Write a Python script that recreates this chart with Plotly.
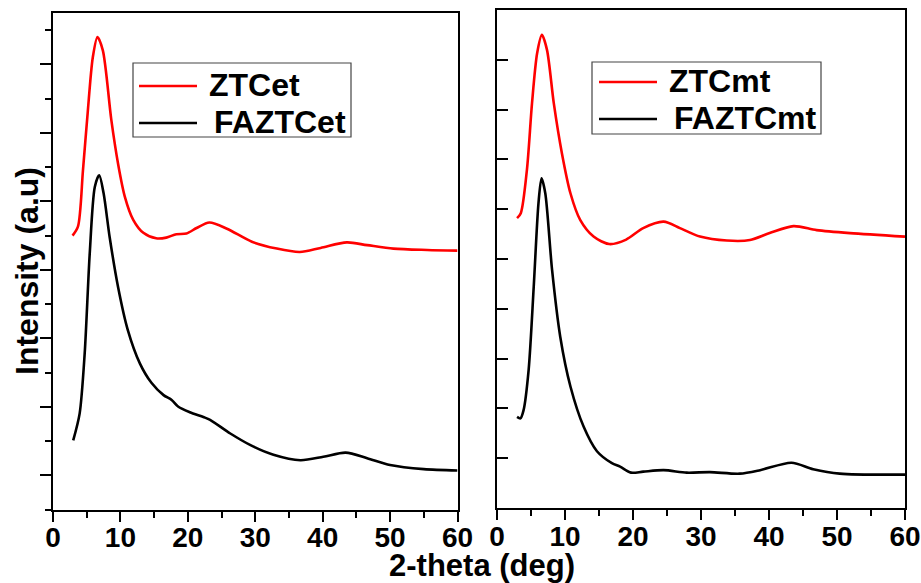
import plotly.graph_objects as go

# ---------------- data ----------------
ztcet_x = [2.9, 3.7, 4.45, 5.15, 5.9, 6.6, 7.4, 8.65, 9.65, 10.65, 11.9, 13.4, 15.3, 16.8,
           18.3, 19.8, 21.3, 23.2, 25.8, 29.5, 33.2, 36.6, 39.7, 43.6, 46.6, 50.5, 55.5, 60]
ztcet_y = [4.00, 4.13, 4.96, 5.80, 6.60, 6.90, 6.70, 5.69, 5.05, 4.57, 4.23, 4.04, 3.96, 3.97,
           4.02, 4.03, 4.11, 4.19, 4.10, 3.91, 3.81, 3.76, 3.82, 3.90, 3.86, 3.81, 3.79, 3.78]

faztcet_x = [3.0, 3.95, 4.7, 5.45, 6.2, 6.85, 7.5, 8.4, 9.65, 11.1, 12.9, 14.6, 16.4, 17.6, 18.6,
             20.3, 22.3, 23.3, 26.3, 29.3, 32.7, 36.7, 40.1, 43.4, 46.6, 50.0, 55.0, 60]
faztcet_y = [1.01, 1.40, 2.28, 3.74, 4.71, 4.88, 4.62, 3.98, 3.25, 2.62, 2.13, 1.85, 1.67, 1.60, 1.50,
             1.42, 1.35, 1.31, 1.11, 0.94, 0.80, 0.72, 0.77, 0.83, 0.75, 0.65, 0.59, 0.57]

ztcmt_x = [2.95, 3.5, 4.4, 5.15, 5.9, 6.6, 7.35, 8.35, 9.55, 10.8, 12.25, 14.2, 16.5, 19.0, 21.5,
           24.5, 26.9, 29.85, 33.8, 37.2, 40.1, 43.6, 47.0, 51.9, 60]
ztcmt_y = [5.82, 5.92, 6.79, 8.13, 9.13, 9.50, 9.20, 8.13, 7.12, 6.32, 5.78, 5.45, 5.30, 5.39, 5.62,
           5.75, 5.62, 5.45, 5.37, 5.38, 5.52, 5.66, 5.58, 5.52, 5.45]

faztcmt_x = [2.95, 3.45, 3.9, 4.65, 5.4, 6.1, 6.55, 7.1, 8.1, 9.3, 10.8, 12.75, 14.7, 16.9, 18.1,
             19.7, 21.5, 24.5, 27.9, 31.3, 35.7, 38.7, 43.3, 46.5, 50.4, 60]
faztcmt_y = [1.83, 1.80, 1.96, 2.77, 4.44, 6.12, 6.62, 6.32, 4.78, 3.44, 2.44, 1.63, 1.14, 0.90, 0.83,
             0.71, 0.73, 0.76, 0.71, 0.72, 0.69, 0.76, 0.91, 0.78, 0.69, 0.67]

x_ticks = [0, 10, 20, 30, 40, 50, 60]
labels_left = ["ZTCet", "FAZTCet"]
labels_right = ["ZTCmt", "FAZTCmt"]
x_title = "2-theta (deg)"
y_title = "Intensity (a.u)"

RED = "#ff0000"
BLACK = "#000000"
FONT = "Liberation Sans, Arial, sans-serif"
W, H = 921, 583

fig = go.Figure()
line_w = 2.6
sm = 0.8
fig.add_trace(go.Scatter(x=ztcet_x, y=ztcet_y, mode="lines", name=labels_left[0],
                         line=dict(color=RED, width=line_w, shape="spline", smoothing=sm),
                         xaxis="x", yaxis="y"))
fig.add_trace(go.Scatter(x=faztcet_x, y=faztcet_y, mode="lines", name=labels_left[1],
                         line=dict(color=BLACK, width=line_w, shape="spline", smoothing=sm),
                         xaxis="x", yaxis="y"))
fig.add_trace(go.Scatter(x=ztcmt_x, y=ztcmt_y, mode="lines", name=labels_right[0],
                         line=dict(color=RED, width=line_w, shape="spline", smoothing=sm),
                         xaxis="x2", yaxis="y2"))
fig.add_trace(go.Scatter(x=faztcmt_x, y=faztcmt_y, mode="lines", name=labels_right[1],
                         line=dict(color=BLACK, width=line_w, shape="spline", smoothing=sm),
                         xaxis="x2", yaxis="y2"))

def px_x(p):
    return p / W

def px_y(p):
    return 1 - p / H

tickfont = dict(family=FONT, size=28, color="black", weight="bold")
xcommon = dict(range=[0, 60], tickmode="array", tickvals=x_ticks, ticktext=[str(v) for v in x_ticks],
               ticks="outside", ticklen=10, tickwidth=2, tickcolor="black",
               ticklabelstandoff=-8, ticklabeloverflow="allow",
               minor=dict(ticks="outside", ticklen=6, tickwidth=2, dtick=5, tick0=0, tickcolor="black"),
               showline=True, linewidth=2, linecolor="black", mirror=True, automargin=False,
               showgrid=False, zeroline=False, tickfont=tickfont, fixedrange=True)

fig.update_layout(
    xaxis=dict(domain=[px_x(53), px_x(457.5)], anchor="y", **xcommon),
    yaxis=dict(domain=[px_y(509.5), px_y(13)], anchor="x", range=[0, 7.25],
               tickmode="linear", tick0=0.5, dtick=1, ticks="outside", ticklen=11, tickwidth=1.5,
               tickcolor="black", showticklabels=False, automargin=False,
               minor=dict(ticks="outside", ticklen=6, tickwidth=1.5, dtick=0.5, tick0=0, tickcolor="black"),
               showline=True, linewidth=2, linecolor="black", mirror=True,
               showgrid=False, zeroline=False, fixedrange=True),
    xaxis2=dict(domain=[px_x(497), px_x(905)], anchor="y2", **xcommon),
    yaxis2=dict(domain=[px_y(508), px_y(10)], anchor="x2", range=[0, 10],
                tickmode="linear", tick0=0, dtick=1, ticks="inside", ticklen=11, tickwidth=1.5,
                tickcolor="black", showticklabels=False, automargin=False,
                showline=True, linewidth=2, linecolor="black", mirror=True,
                showgrid=False, zeroline=False, fixedrange=True),
    width=W, height=H,
    margin=dict(l=0, r=0, t=0, b=0, autoexpand=False),
    paper_bgcolor="white", plot_bgcolor="white",
    showlegend=False,
)

shapes = []
annotations = []

def legend_box(x0, y0, x1, y1, red_y, blk_y, lx0, lx1, tx_red, tx_blk, ty_red, ty_blk, names):
    shapes.append(dict(type="rect", xref="paper", yref="paper",
                       x0=px_x(x0), x1=px_x(x1), y0=px_y(y1), y1=px_y(y0),
                       line=dict(color="#444444", width=1.2), fillcolor="white", layer="above"))
    shapes.append(dict(type="line", xref="paper", yref="paper",
                       x0=px_x(lx0), x1=px_x(lx1), y0=px_y(red_y), y1=px_y(red_y),
                       line=dict(color=RED, width=line_w), layer="above"))
    shapes.append(dict(type="line", xref="paper", yref="paper",
                       x0=px_x(lx0), x1=px_x(lx1), y0=px_y(blk_y), y1=px_y(blk_y),
                       line=dict(color=BLACK, width=line_w), layer="above"))
    annotations.append(dict(text=names[0], xref="paper", yref="paper", x=px_x(tx_red), y=px_y(ty_red),
                            xanchor="left", yanchor="middle", showarrow=False,
                            font=dict(family=FONT, size=32, color="black", weight="bold")))
    annotations.append(dict(text=names[1], xref="paper", yref="paper", x=px_x(tx_blk), y=px_y(ty_blk),
                            xanchor="left", yanchor="middle", showarrow=False,
                            font=dict(family=FONT, size=32, color="black", weight="bold")))

legend_box(133, 63, 351, 137, 86, 123, 139, 197, 207, 212, 85, 122, labels_left)
legend_box(592, 62, 821, 134, 82, 119, 599, 657, 667, 672, 81, 118, labels_right)

annotations.append(dict(text=x_title, xref="paper", yref="paper", x=px_x(482), y=0,
                        xanchor="center", yanchor="bottom", yshift=-2, showarrow=False,
                        font=dict(family=FONT, size=31, color="black", weight="bold")))
annotations.append(dict(text=y_title, xref="paper", yref="paper", x=px_x(27), y=px_y(271),
                        xanchor="center", yanchor="middle", textangle=-90, showarrow=False,
                        font=dict(family=FONT, size=32, color="black", weight="bold")))

fig.update_layout(shapes=shapes, annotations=annotations)
fig.write_html("out.html")
